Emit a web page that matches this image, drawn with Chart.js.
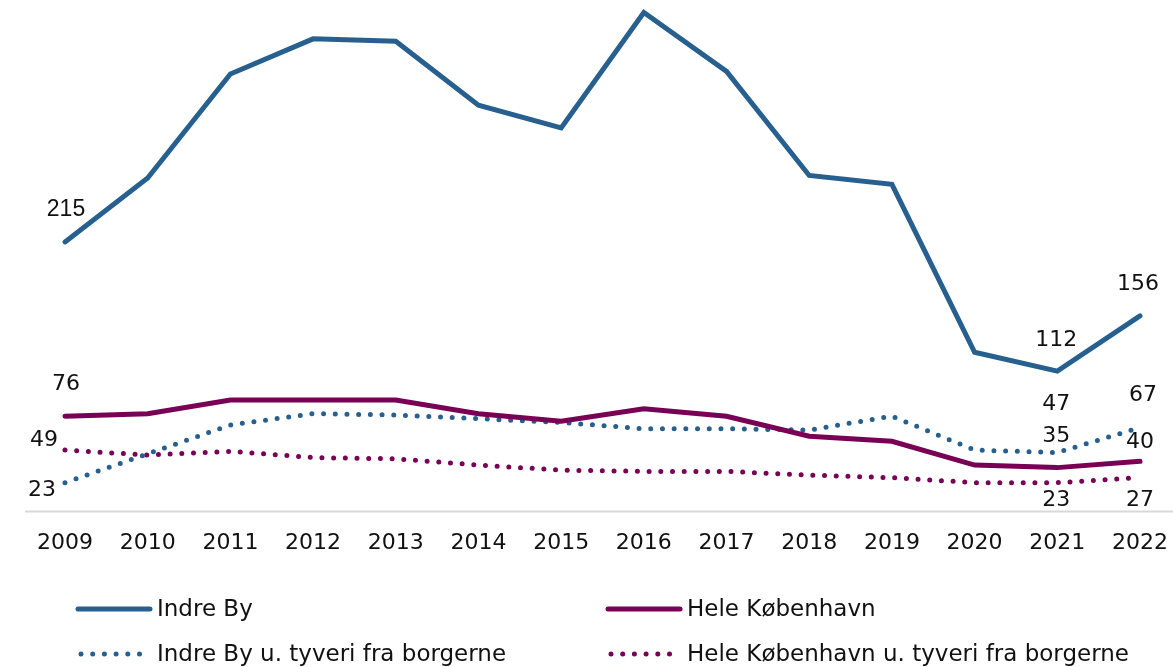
<!DOCTYPE html>
<html>
<head>
<meta charset="utf-8">
<script src="https://cdn.jsdelivr.net/npm/chart.js@4"></script>
<style>
  html, body { margin: 0; padding: 0; background: #fff; }
  #wrap { width: 1173px; height: 667px; }
</style>
</head>
<body>
<div id="wrap"><canvas id="chart" width="1173" height="667"></canvas></div>
<script>
// Years on the x axis
const years = ["2009", "2010", "2011", "2012", "2013", "2014", "2015", "2016", "2017", "2018", "2019", "2020", "2021", "2022"];

// Series values
const indreBy = [215, 266, 349, 377, 375, 324, 306, 398, 351, 268, 261, 127, 112, 156];
const heleKbh = [76, 78, 89, 89, 89, 78, 72, 82, 76, 60, 56, 37, 35, 40];
const indreByUdenTyveri = [23, 46, 69, 78, 77, 74, 71, 66, 66, 65, 76, 49, 47, 67];
const heleKbhUdenTyveri = [49, 45, 48, 43, 42, 37, 33, 32, 32, 29, 27, 23, 23, 27];

const seriesNames = [
  "Indre By",
  "Hele København",
  "Indre By u. tyveri fra borgerne",
  "Hele København u. tyveri fra borgerne",
];

const BLUE = "#27608F";
const PURPLE = "#780055";
const FONT = "'DejaVu Sans', sans-serif";
const DOTS = [0, 11.7];

// which points carry a value label, and where the text sits relative to the point
const valueLabels = [
  [{ i: 0, dx: 1, dy: -32, font: "23px 'Liberation Sans', sans-serif" }, { i: 12, dx: -1, dy: -31 }, { i: 13, dx: -2, dy: -32 }],
  [{ i: 0, dx: 1, dy: -32 }, { i: 12, dx: -1, dy: -31 }, { i: 13, dx: 0, dy: -19 }],
  [{ i: 0, dx: -23, dy: 8 }, { i: 12, dx: -1, dy: -48 }, { i: 13, dx: 3, dy: -32 }],
  [{ i: 0, dx: -21, dy: -10 }, { i: 12, dx: -1, dy: 18 }, { i: 13, dx: 0, dy: 23 }],
];

const baseline = {
  id: "baseline",
  beforeDatasetsDraw(chart) {
    const { ctx, width } = chart;
    const y = chart.scales.y.getPixelForValue(0);
    ctx.save();
    ctx.strokeStyle = "#d9d9d9";
    ctx.lineWidth = 2;
    ctx.beginPath();
    ctx.moveTo(25, y);
    ctx.lineTo(width, y);
    ctx.stroke();
    ctx.restore();
  },
};

const pointLabels = {
  id: "pointLabels",
  afterDatasetsDraw(chart) {
    const ctx = chart.ctx;
    ctx.save();
    ctx.fillStyle = "#111";
    ctx.textAlign = "center";
    ctx.textBaseline = "middle";
    valueLabels.forEach((list, d) => {
      const meta = chart.getDatasetMeta(d);
      const values = chart.data.datasets[d].data;
      list.forEach((l) => {
        const pt = meta.data[l.i];
        ctx.font = l.font || "22px " + FONT;
        ctx.fillText(String(values[l.i]), pt.x + l.dx, pt.y + l.dy);
      });
    });
    ctx.restore();
  },
};

const legendGrid = {
  id: "legendGrid",
  afterDraw(chart) {
    const ctx = chart.ctx;
    const cols = [78, 608];
    const rows = [609, 654];
    ctx.save();
    chart.data.datasets.forEach((ds, d) => {
      const x = cols[d % 2];
      const y = rows[Math.floor(d / 2)];
      ctx.strokeStyle = ds.borderColor;
      ctx.lineWidth = 5;
      ctx.lineCap = "round";
      ctx.setLineDash(ds.borderDash || []);
      ctx.beginPath();
      if (ds.borderDash) {
        ctx.moveTo(x + 3, y);
        ctx.lineTo(x + 68, y);
      } else {
        ctx.moveTo(x, y);
        ctx.lineTo(x + 72, y);
      }
      ctx.stroke();
      ctx.setLineDash([]);
      ctx.fillStyle = "#111";
      ctx.font = "23px " + FONT;
      ctx.textAlign = "left";
      ctx.textBaseline = "middle";
      ctx.fillText(ds.label, x + 79, y + 1);
    });
    ctx.restore();
  },
};

function line(label, data, color, dotted) {
  return {
    label,
    data,
    borderColor: color,
    backgroundColor: color,
    borderWidth: 5,
    borderCapStyle: "round",
    borderJoinStyle: "miter",
    borderDash: dotted ? DOTS : undefined,
    pointRadius: 0,
    tension: 0,
    clip: false,
  };
}

new Chart(document.getElementById("chart"), {
  type: "line",
  data: {
    labels: years,
    datasets: [
      line(seriesNames[0], indreBy, BLUE, false),
      line(seriesNames[1], heleKbh, PURPLE, false),
      line(seriesNames[2], indreByUdenTyveri, BLUE, true),
      line(seriesNames[3], heleKbhUdenTyveri, PURPLE, true),
    ],
  },
  options: {
    responsive: false,
    animation: false,
    layout: { padding: { left: 65, right: 33, top: 10, bottom: 0 } },
    plugins: {
      legend: { display: false },
      tooltip: { enabled: false },
    },
    scales: {
      x: {
        offset: false,
        grid: { display: false, drawTicks: false },
        border: { display: false },
        ticks: {
          color: "#111",
          font: { family: FONT, size: 22 },
          padding: 19,
          maxRotation: 0,
          autoSkip: false,
        },
        afterFit(scale) {
          scale.height = 155.5;
          scale.paddingLeft = 0;
          scale.paddingRight = 0;
        },
      },
      y: {
        display: false,
        min: 0,
        max: 400,
      },
    },
  },
  plugins: [baseline, pointLabels, legendGrid],
});
</script>
</body>
</html>
